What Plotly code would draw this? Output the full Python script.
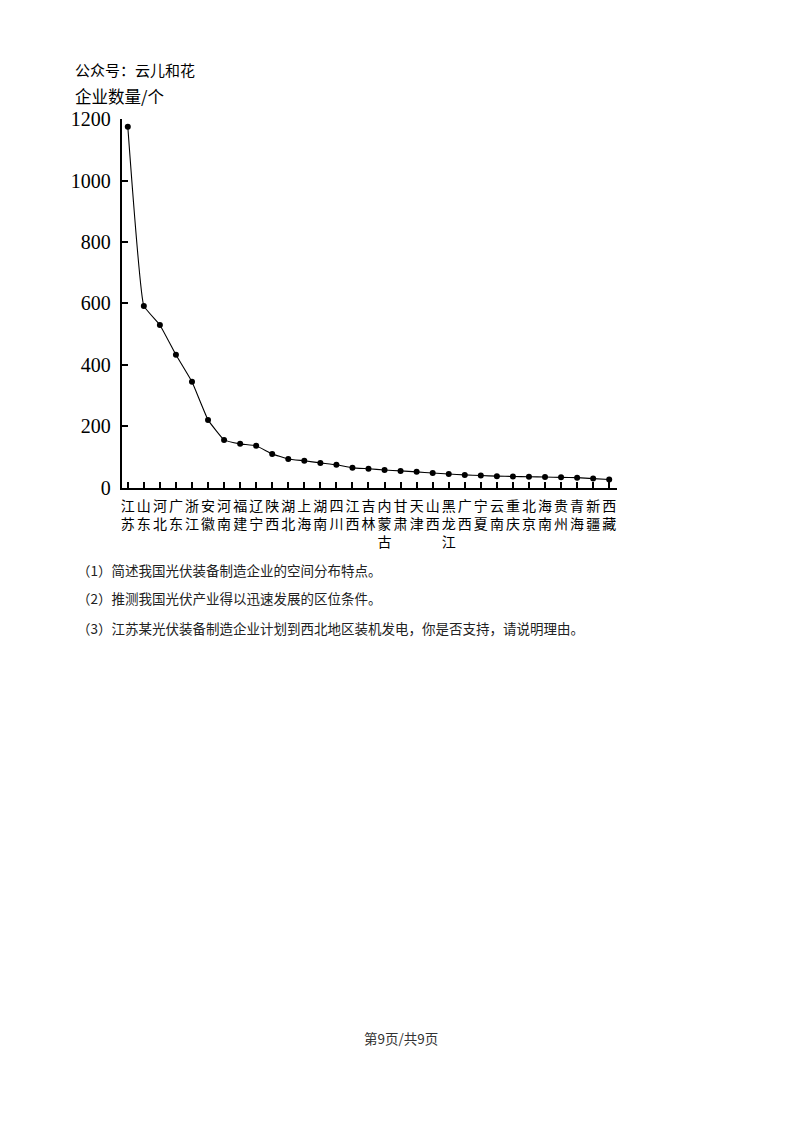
import plotly.graph_objects as go

provinces = ["江苏", "山东", "河北", "广东", "浙江", "安徽", "河南", "福建", "辽宁", "陕西",
             "湖北", "上海", "湖南", "四川", "江西", "吉林", "内蒙古", "甘肃", "天津", "山西",
             "黑龙江", "广西", "宁夏", "云南", "重庆", "北京", "海南", "贵州", "青海", "新疆", "西藏"]
counts = [1175, 592, 530, 433, 345, 221, 156, 143, 137, 110,
          94, 88, 81, 75, 65, 62, 58, 55, 52, 48,
          45, 42, 40, 38, 37, 36, 35, 34, 33, 30, 27]
y_ticks = [0, 200, 400, 600, 800, 1000, 1200]

# page is 800x1132 with an 8px body margin -> figure is 784x1116 at offset (8, 8)
OFF = 8
W, H = 784, 1116
CJK = "Noto Sans CJK SC"
SERIF = "Liberation Serif"
# empirical vertical correction of the capture
VA, VB = 0.981, 12.0

def px(x):
    return (x - OFF) / W

def py(y):
    yp = (y - VB) / VA
    return 1 - (yp - OFF) / H

tick_text = ["<br>".join(list(p)) for p in provinces]

fig = go.Figure()
fig.add_trace(go.Scatter(
    x=list(range(len(provinces))), y=counts,
    mode="lines+markers",
    line=dict(color="black", width=1.1, shape="spline", smoothing=0.3),
    marker=dict(color="black", size=6),
    showlegend=False, hoverinfo="skip",
))

fig.update_layout(
    width=W, height=H,
    margin=dict(l=0, r=0, t=0, b=0),
    paper_bgcolor="white", plot_bgcolor="white",
    xaxis=dict(
        domain=[px(121), px(617)],
        range=[-0.37, 30.5],
        tickmode="array", tickvals=list(range(len(provinces))), ticktext=tick_text,
        ticks="inside", ticklen=6, tickwidth=1.5, tickcolor="black",
        showline=True, linecolor="black", linewidth=2,
        showgrid=False, zeroline=False,
        tickfont=dict(family=CJK, size=14, color="black"),
        ticklabelstandoff=4,
    ),
    yaxis=dict(
        domain=[py(489), py(120)],
        range=[0, 1200],
        tickmode="array", tickvals=y_ticks, ticktext=[str(v) for v in y_ticks],
        ticks="inside", ticklen=6, tickwidth=1.5, tickcolor="black",
        showline=True, linecolor="black", linewidth=2,
        showgrid=False, zeroline=False,
        tickfont=dict(family=SERIF, size=20, color="black"),
        ticklabelstandoff=5,
    ),
)

def txt(x, y, s, size, family=CJK, xanchor="left", color="black"):
    fig.add_annotation(x=px(x), y=py(y), xref="paper", yref="paper",
                       text=s, showarrow=False, xanchor=xanchor, yanchor="middle",
                       font=dict(family=family, size=size, color=color))

txt(72, 70, "公众号：云儿和花", 15)
txt(72, 97, "企业数量/个", 16.5)
txt(74, 571, "（1）简述我国光伏装备制造企业的空间分布特点。", 13.5, color="#222")
txt(74, 599, "（2）推测我国光伏产业得以迅速发展的区位条件。", 13.5, color="#222")
txt(74, 629, "（3）江苏某光伏装备制造企业计划到西北地区装机发电，你是否支持，请说明理由。", 13.5, color="#222")
txt(400, 1040, "第9页/共9页", 13.5, xanchor="center", color="#333")

fig.write_html("out.html")
